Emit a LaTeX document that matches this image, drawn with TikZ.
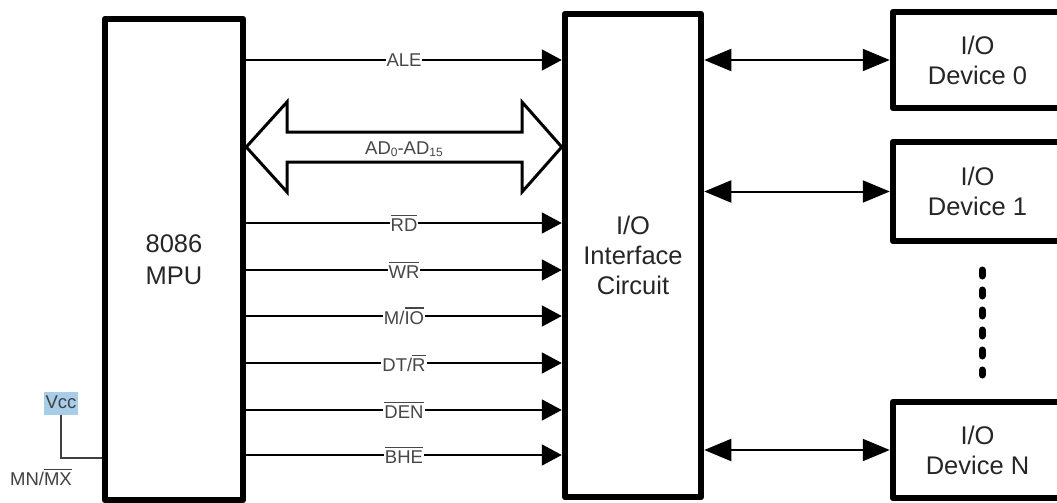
\documentclass[tikz,border=0pt]{standalone}
\usepackage{fontspec}
\setmainfont{Liberation Sans}
\usetikzlibrary{arrows.meta}
\definecolor{vccblue}{HTML}{A8CDE8}
\newcommand\ovl[1]{\leavevmode\vbox{\hrule height 1.8pt\kern 2.2pt\hbox{#1}}}
\begin{document}
\begin{tikzpicture}[x=1pt,y=-1pt,
  box/.style={draw, line width=6.5pt, line join=round, inner sep=0pt, align=center,
    font=\fontsize{25.5}{30}\selectfont, text=black!85},
  sig/.style={line width=2pt, -{Triangle[length=20pt,width=21pt]}},
  bidir/.style={line width=2pt, {Triangle[length=27pt,width=22pt]}-{Triangle[length=27pt,width=22pt]}},
  lbl/.style={fill=white, inner xsep=1pt, inner ysep=0pt, text=black!72, font=\fontsize{18.5}{20}\selectfont},
  small/.style={text=black!75, font=\fontsize{18.5}{20}\selectfont}]
\useasboundingbox (0,0) rectangle (1057,503);

% main blocks
\node[box, minimum width=138pt, minimum height=481pt, font=\fontsize{25.5}{32}\selectfont] (mpu) at (174,259.5) {8086\\MPU};
\node[box, minimum width=136pt, minimum height=483pt] (iface) at (633,255.5) {I/O\\Interface\\Circuit};
\node[box, minimum width=169pt, minimum height=96pt] (dev0) at (977.5,60) {I/O\\Device 0};
\node[box, minimum width=169pt, minimum height=99pt] (dev1) at (977.5,191.5) {I/O\\Device 1};
\node[box, minimum width=169pt, minimum height=96pt] (devN) at (977.5,450) {I/O\\Device N};

% control signals
\draw[sig] (mpu.east |- 0,60) -- node[lbl]{ALE} (iface.west |- 0,60);
\draw[sig] (mpu.east |- 0,223) -- node[lbl]{\ovl{RD}} (iface.west |- 0,223);
\draw[sig] (mpu.east |- 0,270) -- node[lbl]{\ovl{WR}} (iface.west |- 0,270);
\draw[sig] (mpu.east |- 0,316) -- node[lbl]{M/\ovl{IO}} (iface.west |- 0,316);
\draw[sig] (mpu.east |- 0,363) -- node[lbl]{DT/\ovl{R}} (iface.west |- 0,363);
\draw[sig] (mpu.east |- 0,410) -- node[lbl]{\ovl{DEN}} (iface.west |- 0,410);
\draw[sig] (mpu.east |- 0,455) -- node[lbl]{\ovl{BHE}} (iface.west |- 0,455);

% address/data bus
\draw[line width=3pt, fill=white, line join=miter]
  (mpu.east |- 0,147) -- (287,102) -- (287,132) -- (522,132) -- (522,102)
  -- (iface.west |- 0,147) -- (522,192) -- (522,162) -- (287,162) -- (287,192) -- cycle;
\node[small, text=black!72] (bus) at (404,149) {AD{\fontsize{12}{12}\selectfont\raisebox{-2.5pt}{0}}-AD{\fontsize{12}{12}\selectfont\raisebox{-2.5pt}{15}}};

% devices
\draw[bidir] (iface.east |- dev0.west) -- (dev0.west);
\draw[bidir] (iface.east |- dev1.west) -- (dev1.west);
\draw[bidir] (iface.east |- devN.west) -- (devN.west);
\draw[line width=7pt, line cap=round, dash pattern=on 6pt off 14pt] (982,270) -- (982,375);

% Vcc strap
\node[small, fill=vccblue, inner xsep=1.5pt, inner ysep=2.5pt, text height=14pt, text depth=4pt] (vcc) at (61,403.5) {Vcc};
\node[small] (mnmx) at (41,477) {MN/\ovl{MX}};
\coordinate (bend) at (61,458);
\draw[line width=2pt, black!75] (vcc.south) -- (bend) -- (bend -| mpu.west);
\end{tikzpicture}
\end{document}
